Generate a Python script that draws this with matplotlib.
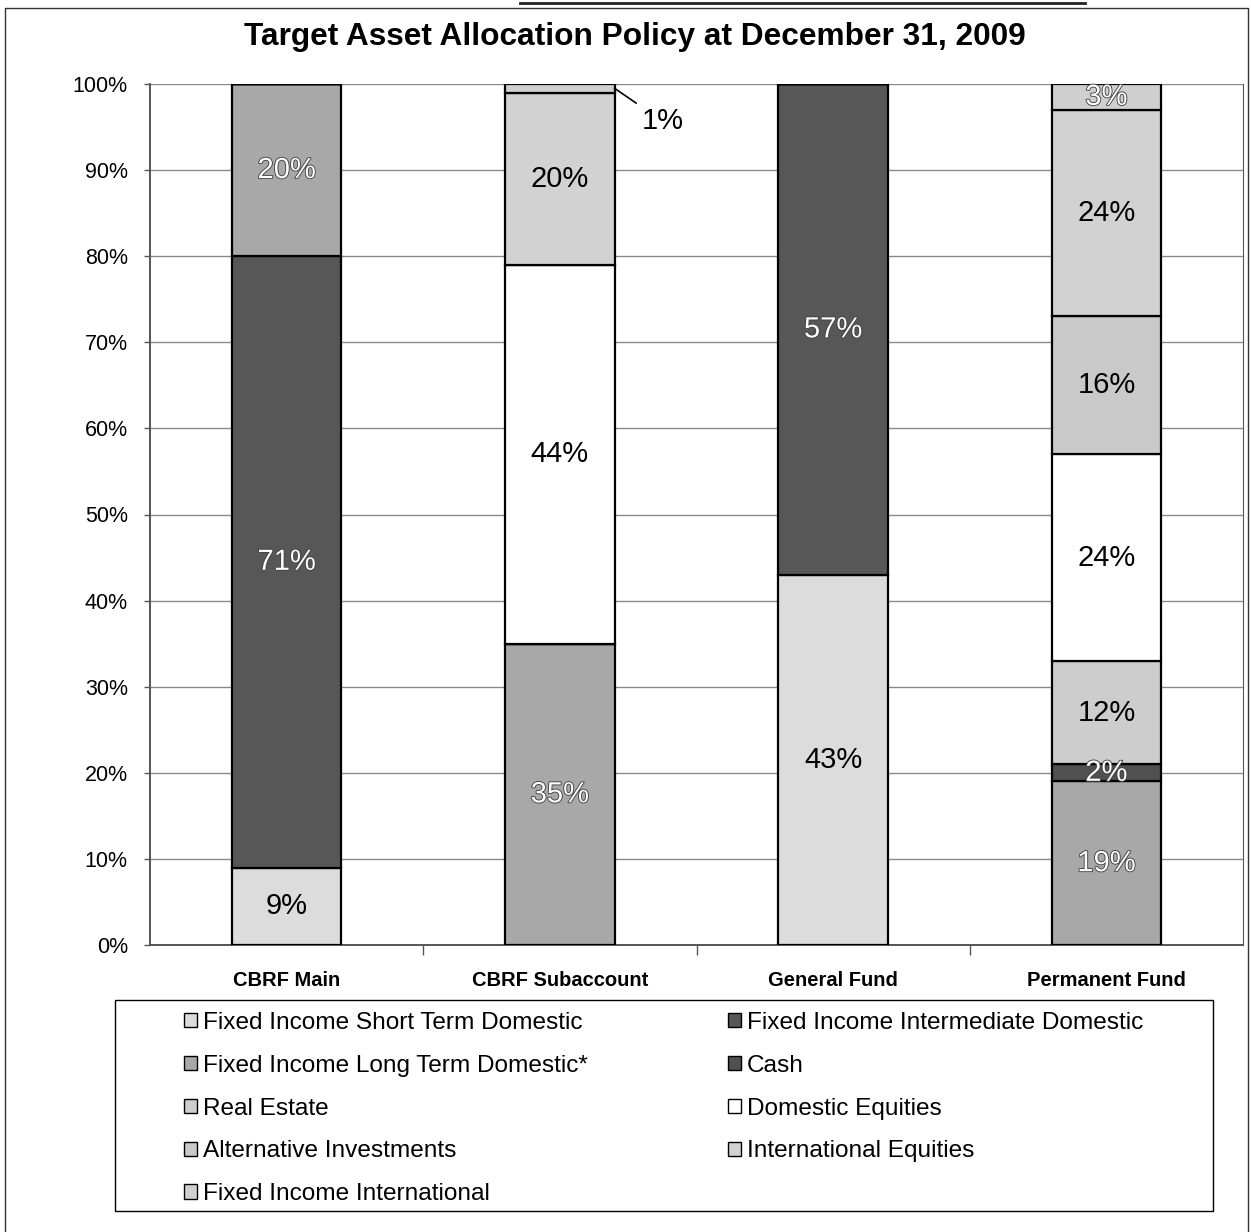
import matplotlib
matplotlib.use("Agg")
import matplotlib.pyplot as plt
import matplotlib.patheffects as pe
from matplotlib.patches import Patch, Rectangle
from matplotlib.lines import Line2D

plt.rcParams['font.family'] = ['Liberation Sans', 'DejaVu Sans']

# ============================================================
# DATA
# ============================================================

categories = ["CBRF Main", "CBRF Subaccount", "General Fund", "Permanent Fund"]

series_names = [
    "Fixed Income Short Term Domestic",
    "Fixed Income Intermediate Domestic",
    "Fixed Income Long Term Domestic*",
    "Cash",
    "Real Estate",
    "Domestic Equities",
    "Alternative Investments",
    "International Equities",
    "Fixed Income International",
]

short_term = [9, 0, 43, 0]
intermediate = [71, 0, 57, 0]
long_term = [20, 35, 0, 19]
cash = [0, 0, 0, 2]
real_estate = [0, 0, 0, 12]
domestic_equities = [0, 44, 0, 24]
alternative = [0, 0, 0, 16]
intl_equities = [0, 20, 0, 24]
fi_international = [0, 1, 0, 3]

series_values = [
    short_term, intermediate, long_term, cash, real_estate,
    domestic_equities, alternative, intl_equities, fi_international,
]

colors = [
    "#dcdcdc", "#575757", "#a8a8a8", "#505050", "#cdcdcd",
    "#ffffff", "#c9c9c9", "#d2d2d2", "#cfcfcf",
]
white_text = [False, True, True, True, False, False, False, False, True]

y_ticks = list(range(0, 101, 10))

# ============================================================
# FIGURE
# ============================================================

W, H = 1251, 1232
fig = plt.figure(figsize=(W / 100, H / 100), dpi=100)

ax = fig.add_axes([150 / W, 1 - 945 / H, (1243 - 150) / W, (945 - 84) / H])

x = list(range(len(categories)))
bar_w = 0.4
bottom = [0.0] * len(categories)

for name, vals, col, wt in zip(series_names, series_values, colors, white_text):
    ax.bar(x, vals, bar_w, bottom=bottom, color=col,
           edgecolor="black", linewidth=1.6, label=name, zorder=3)
    for i, v in enumerate(vals):
        if v >= 2:
            txt = ax.text(i, bottom[i] + v / 2, f"{v}%",
                          ha="center", va="center", fontsize=21,
                          color="white" if wt else "black", zorder=4)
            if wt:
                txt.set_path_effects([pe.withStroke(linewidth=1.3, foreground="#444444")])
        elif v > 0:
            ax.annotate(f"{v}%", xy=(i + bar_w / 2, bottom[i] + v / 2),
                        xytext=(i + 0.375, 95.7), ha="center", va="center",
                        fontsize=21,
                        arrowprops=dict(arrowstyle="-", color="black", lw=1.2,
                                        shrinkA=2, shrinkB=0), zorder=4)
    bottom = [b + v for b, v in zip(bottom, vals)]

# ------------------------------------------------------------
# AXES
# ------------------------------------------------------------

ax.set_xlim(-0.5, 3.5)
ax.set_ylim(0, 100)

ax.set_yticks(y_ticks)
ax.set_yticklabels([f"{v}%" for v in y_ticks], fontsize=15.5)
ax.yaxis.grid(True, color="#8a8a8a", linewidth=1.0, zorder=0)
ax.tick_params(axis="y", length=4, width=1, color="#555555", pad=12)

ax.set_xticks(x)
ax.set_xticklabels(categories, fontsize=14.5, fontweight="bold")
ax.set_xticks([0.5, 1.5, 2.5], minor=True)
ax.tick_params(axis="x", which="major", length=0, pad=19)
ax.tick_params(axis="x", which="minor", length=7, width=1, color="#555555")

for s in ["left", "bottom"]:
    ax.spines[s].set_color("#555555")
    ax.spines[s].set_linewidth(1.4)
ax.spines["right"].set_color("#555555")
ax.spines["top"].set_visible(False)

# ------------------------------------------------------------
# TITLE
# ------------------------------------------------------------

fig.text(635 / W, 1 - 37 / H, "Target Asset Allocation Policy at December 31, 2009",
         ha="center", va="center", fontsize=22.8, fontweight="bold")

# ------------------------------------------------------------
# LEGEND
# ------------------------------------------------------------

handles = [Patch(facecolor=c, edgecolor="black", linewidth=1.0) for c in colors]
order = [0, 2, 4, 6, 8, 1, 3, 5, 7]

fig.legend([handles[k] for k in order], [series_names[k] for k in order],
           loc="upper left", bbox_to_anchor=(184 / W, 1 - 1012 / H),
           ncol=2, frameon=False, fontsize=17.6,
           handlelength=0.52, handleheight=0.52, handletextpad=0.25,
           columnspacing=5.75, labelspacing=0.85,
           borderpad=0, borderaxespad=0)

fig.patches.append(Rectangle((115 / W, 1 - 1211 / H), (1213 - 115) / W, 211 / H,
                             transform=fig.transFigure, fill=False,
                             edgecolor="black", linewidth=1.0))

# outer frame
fig.lines.append(Line2D([5 / W, 5 / W, 1248 / W, 1248 / W],
                        [0, 1 - 8 / H, 1 - 8 / H, 0],
                        transform=fig.transFigure, color="#333333", linewidth=1.0))
fig.lines.append(Line2D([520 / W, 1085 / W], [1 - 3 / H, 1 - 3 / H],
                        transform=fig.transFigure, color="#222222", linewidth=2.0))

fig.savefig("out.png", dpi=100)
